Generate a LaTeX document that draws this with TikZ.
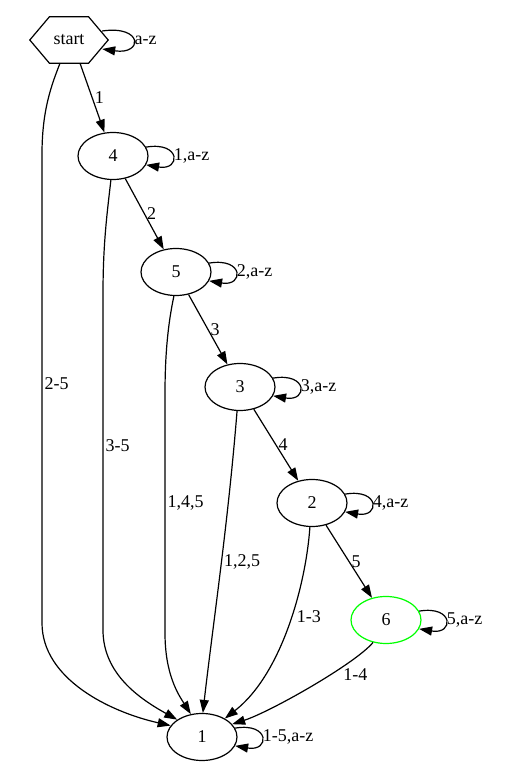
\documentclass[tikz,border=0pt]{standalone}
\usepackage{fontspec}
\setmainfont{Liberation Serif}
\usetikzlibrary{shapes.geometric,arrows.meta,calc}
\definecolor{finalgreen}{RGB}{0, 255, 0}

\begin{document}
\begin{tikzpicture}[x=1pt, y=1pt, font=\fontsize{18}{20}\selectfont,
    state/.style={draw, ellipse, minimum width=70, minimum height=47, inner sep=0pt, line width=1.2pt},
    trans/.style={line width=1.2pt, -{Triangle[length=13pt, width=9pt]}},
    lbl/.style={inner sep=2pt}]
  \useasboundingbox (0,0) rectangle (506,774);
  % States
  \node[minimum width=78, minimum height=46] (start) at (69,734) {start};
  \draw[line width=1.2pt] (start.west) -- ($(start.north west)!0.25!(start.north east)$)
    -- ($(start.north west)!0.75!(start.north east)$) -- (start.east)
    -- ($(start.south west)!0.75!(start.south east)$) -- ($(start.south west)!0.25!(start.south east)$) -- cycle;
  \node[state] (n4) at (113,618) {4};
  \node[state] (n5) at (176,502) {5};
  \node[state] (n3) at (240,387) {3};
  \node[state] (n2) at (312,271) {2};
  \node[state, draw=finalgreen] (n6) at (386,154) {6};
  \node[state] (n1) at (202,37) {1};
  % Chain
  \draw[trans] ([xshift=11pt]start.south) -- node[lbl, right] {1} (n4.110);
  \draw[trans] (n4) -- node[lbl, right] {2} (n5);
  \draw[trans] (n5) -- node[lbl, right] {3} (n3);
  \draw[trans] (n3) -- node[lbl, right] {4} (n2);
  \draw[trans] (n2) -- node[lbl, right] {5} (n6);
  % Self loops
  \draw[trans] ($(start.east)+(-6,9)$) .. controls +(41,6) and +(41,-6) .. node[right, inner sep=1pt] {a-z} ($(start.east)+(-6,-9)$);
  \draw[trans] (n4.15) .. controls +(35,6) and +(35,-6) .. node[right, inner sep=1pt] {1,a-z} (n4.-15);
  \draw[trans] (n5.15) .. controls +(35,6) and +(35,-6) .. node[right, inner sep=1pt] {2,a-z} (n5.-15);
  \draw[trans] (n3.15) .. controls +(35,6) and +(35,-6) .. node[right, inner sep=1pt] {3,a-z} (n3.-15);
  \draw[trans] (n2.15) .. controls +(35,6) and +(35,-6) .. node[right, inner sep=1pt] {4,a-z} (n2.-15);
  \draw[trans] (n6.15) .. controls +(35,6) and +(35,-6) .. node[right, inner sep=1pt] {5,a-z} (n6.-15);
  \draw[trans] (n1.15) .. controls +(35,6) and +(35,-6) .. node[right, inner sep=1pt] {1-5,a-z} (n1.-15);
  % Edges into 1
  \draw[trans] ([xshift=-9pt]start.south) .. controls (52,690) and (42,665) .. (42,620)
    -- node[lbl, right, pos=0.49] {2-5} (42,151) .. controls (42,95) and (110,62) .. (n1.160);
  \draw[trans] (n4.265) .. controls (107,560) and (103,530) .. (103,480)
    -- node[lbl, right, pos=0.45] {3-5} (103,144) .. controls (103,100) and (140,75) .. (n1.145);
  \draw[trans] (n5.265) .. controls (168,450) and (165,420) .. (165,380)
    -- node[lbl, right, pos=0.456] {1,4,5} (165,141) .. controls (165,100) and (178,80) .. (n1.116);
  \draw[trans] (n3.263) .. controls (228,250) and (213,150) .. node[lbl, right, pos=0.47] {1,2,5} (n1.88);
  \draw[trans] (n2.265) .. controls (306,190) and (282,100) .. node[lbl, right, pos=0.45, xshift=3pt] {1-3} (n1.39);
  \draw[trans] (n6.240) .. controls (355,110) and (270,62) .. node[lbl, anchor=west, pos=0.38, xshift=11pt] {1-4} (n1.23);
\end{tikzpicture}
\end{document}
